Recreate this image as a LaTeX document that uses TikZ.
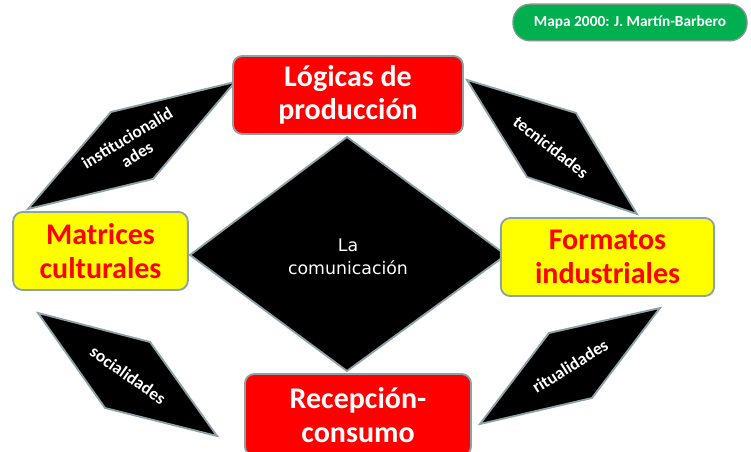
\documentclass[tikz,border=0pt]{standalone}
\usepackage{fontspec}
\setmainfont{Carlito}
\newfontfamily\dejavu{DejaVu Sans}
\definecolor{edgegrey}{HTML}{8BA3A8}
\definecolor{pillgreen}{HTML}{00B050}
\definecolor{pilledge}{HTML}{7A9A8A}
\definecolor{boxred}{HTML}{FF0000}
\definecolor{boxyellow}{HTML}{FFFF00}
\tikzset{
  boxbase/.style={draw=edgegrey, line width=1.4pt, rounded corners=7pt,
    font=\fontsize{22.5}{25}\selectfont\bfseries, align=center, inner sep=0pt},
  redbox/.style={boxbase, fill=boxred, text=white},
  yellowbox/.style={boxbase, fill=boxyellow, text=boxred},
  para/.style={draw=edgegrey, line width=1.4pt, fill=black, line join=miter},
  paratext/.style={text=white, font=\fontsize{13}{14.5}\selectfont\bfseries, align=center, inner sep=0pt},
  pill/.style={draw=pilledge, line width=1pt, fill=pillgreen, rounded corners=13pt,
    text=white, font=\fontsize{11.5}{12}\selectfont\bfseries, inner sep=0pt},
}
\begin{document}
\begin{tikzpicture}[x=0.75pt, y=-0.75pt]
\useasboundingbox (0,0) rectangle (751,452);
\fill[white] (0,0) rectangle (751,452);
\begin{scope}
\clip (0,0) rectangle (751,452);
% parallelograms
\draw[para] (235,82) -- (111,112) -- (28,209) -- (153,179) -- cycle;
\draw[para] (467,80) -- (576,113) -- (637,214) -- (527,177) -- cycle;
\draw[para] (38,313) -- (150,342) -- (217,436) -- (105,408) -- cycle;
\draw[para] (660,308) -- (549,333) -- (480,424) -- (592,398) -- cycle;
\node[paratext, rotate=31] (inst) at (132,146) {institucionalid\\ades};
\node[paratext, rotate=-38] (tecn) at (551,147) {tecnicidades};
\node[paratext, rotate=-35] (soci) at (128,375) {socialidades};
\node[paratext, rotate=32] (ritu) at (570,366) {ritualidades};
% central diamond
\draw[para] (347,137) -- (506,255) -- (347,371) -- (190,255) -- cycle;
\node[text=white, font=\dejavu\fontsize{13}{17}\selectfont, align=center] (com) at (348,257) {La\\comunicación};
% boxes
\node[redbox, minimum width=172.5pt, minimum height=58.5pt] (prod) at (348,95) {Lógicas de\\producción};
\node[redbox, minimum width=169.5pt, minimum height=61.5pt] (rece) at (358,415) {Recepción-\\consumo};
\node[yellowbox, minimum width=131pt, minimum height=58.5pt] (matr) at (100.5,251) {Matrices\\culturales};
\node[yellowbox, minimum width=160pt, minimum height=58.5pt] (form) at (607.5,257) {Formatos\\industriales};
\node[pill, minimum width=175.5pt, minimum height=27.5pt] (mapa) at (630,22.5) {Mapa 2000: J. Martín-Barbero};
\end{scope}
\end{tikzpicture}
\end{document}
